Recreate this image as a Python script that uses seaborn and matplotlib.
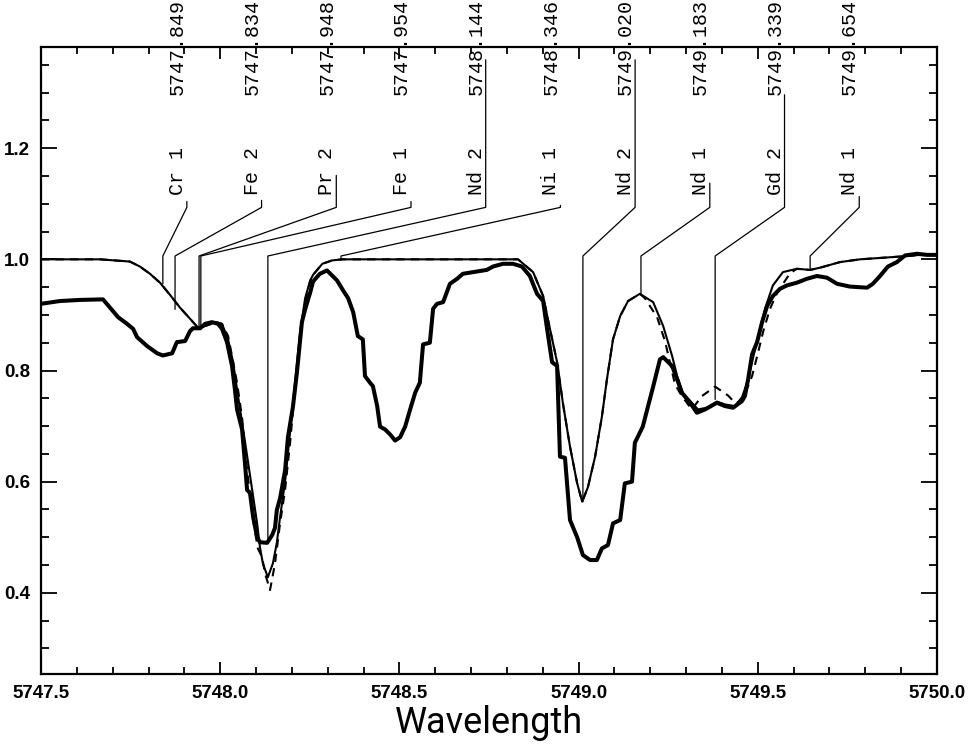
"""Observed vs. synthetic spectrum around 5748-5749 A with line identifications."""

import numpy as np
import pandas as pd
import seaborn as sns
import matplotlib.pyplot as plt
from matplotlib.ticker import MultipleLocator, FormatStrFormatter

# observed spectrum (thick line)
obs_wave = [5747.500, 5747.553, 5747.609, 5747.673, 5747.715, 5747.740, 5747.757, 5747.768,
            5747.796, 5747.824, 5747.840, 5747.866, 5747.879, 5747.902, 5747.916, 5747.924,
            5747.944, 5747.958, 5747.977, 5747.994, 5748.005, 5748.019, 5748.033, 5748.041,
            5748.047, 5748.061, 5748.069, 5748.075, 5748.083, 5748.092, 5748.103, 5748.111,
            5748.131, 5748.145, 5748.153, 5748.158, 5748.167, 5748.181, 5748.189, 5748.203,
            5748.214, 5748.228, 5748.237, 5748.251, 5748.259, 5748.278, 5748.298, 5748.326,
            5748.343, 5748.357, 5748.371, 5748.384, 5748.398, 5748.404, 5748.418, 5748.426,
            5748.438, 5748.446, 5748.460, 5748.474, 5748.488, 5748.502, 5748.516, 5748.530,
            5748.544, 5748.557, 5748.566, 5748.585, 5748.594, 5748.605, 5748.622, 5748.641,
            5748.661, 5748.677, 5748.705, 5748.744, 5748.761, 5748.789, 5748.817, 5748.842,
            5748.864, 5748.884, 5748.901, 5748.912, 5748.926, 5748.940, 5748.948, 5748.962,
            5748.976, 5748.996, 5749.012, 5749.032, 5749.051, 5749.065, 5749.082, 5749.096,
            5749.116, 5749.129, 5749.149, 5749.157, 5749.179, 5749.208, 5749.227, 5749.236,
            5749.247, 5749.261, 5749.275, 5749.288, 5749.311, 5749.330, 5749.353, 5749.386,
            5749.408, 5749.431, 5749.456, 5749.464, 5749.473, 5749.484, 5749.498, 5749.512,
            5749.526, 5749.542, 5749.562, 5749.581, 5749.609, 5749.637, 5749.665, 5749.693,
            5749.721, 5749.757, 5749.805, 5749.821, 5749.841, 5749.863, 5749.888, 5749.911,
            5749.944, 5749.972, 5750.000]
obs_flux = [0.920, 0.925, 0.927, 0.928, 0.896, 0.884, 0.875, 0.860,
            0.844, 0.831, 0.827, 0.831, 0.851, 0.853, 0.871, 0.876,
            0.876, 0.884, 0.887, 0.884, 0.875, 0.851, 0.808, 0.766,
            0.730, 0.694, 0.634, 0.585, 0.580, 0.536, 0.500, 0.491,
            0.490, 0.504, 0.517, 0.549, 0.570, 0.620, 0.680, 0.735,
            0.796, 0.887, 0.910, 0.940, 0.960, 0.974, 0.980, 0.962,
            0.944, 0.930, 0.905, 0.862, 0.856, 0.790, 0.778, 0.772,
            0.736, 0.699, 0.694, 0.685, 0.674, 0.680, 0.699, 0.730,
            0.760, 0.778, 0.847, 0.850, 0.911, 0.920, 0.923, 0.956,
            0.965, 0.974, 0.977, 0.981, 0.987, 0.992, 0.992, 0.987,
            0.970, 0.938, 0.925, 0.875, 0.815, 0.808, 0.645, 0.643,
            0.531, 0.500, 0.468, 0.459, 0.459, 0.480, 0.486, 0.525,
            0.531, 0.597, 0.600, 0.670, 0.699, 0.771, 0.820, 0.824,
            0.817, 0.808, 0.784, 0.760, 0.742, 0.724, 0.730, 0.742,
            0.736, 0.733, 0.745, 0.754, 0.784, 0.829, 0.851, 0.887,
            0.916, 0.934, 0.947, 0.953, 0.958, 0.965, 0.970, 0.967,
            0.956, 0.951, 0.949, 0.956, 0.970, 0.987, 0.995, 1.007,
            1.010, 1.008, 1.008]

# synthetic spectrum, first model (thin line)
syn1_wave = [5747.500, 5747.665, 5747.748, 5747.776, 5747.804, 5747.832, 5747.860, 5747.888,
             5747.916, 5747.938, 5747.958, 5747.988, 5748.005, 5748.022, 5748.036, 5748.050,
             5748.064, 5748.078, 5748.092, 5748.103, 5748.111, 5748.119, 5748.133, 5748.147,
             5748.158, 5748.167, 5748.181, 5748.195, 5748.209, 5748.223, 5748.237, 5748.251,
             5748.259, 5748.285, 5748.312, 5748.340, 5748.831, 5748.873, 5748.901, 5748.920,
             5748.940, 5748.956, 5748.976, 5748.996, 5749.010, 5749.026, 5749.046, 5749.065,
             5749.079, 5749.096, 5749.116, 5749.138, 5749.171, 5749.208, 5749.236, 5749.261,
             5749.275, 5749.291, 5749.316, 5749.333, 5749.358, 5749.386, 5749.408, 5749.436,
             5749.456, 5749.470, 5749.484, 5749.501, 5749.520, 5749.542, 5749.570, 5749.609,
             5749.646, 5749.674, 5749.729, 5749.785, 5749.897, 5749.953, 5750.000]
syn1_flux = [1.000, 1.000, 0.996, 0.987, 0.974, 0.958, 0.936, 0.913,
             0.893, 0.877, 0.880, 0.887, 0.884, 0.856, 0.815, 0.753,
             0.694, 0.634, 0.573, 0.525, 0.482, 0.453, 0.428, 0.453,
             0.490, 0.536, 0.600, 0.690, 0.780, 0.870, 0.930, 0.962,
             0.972, 0.992, 0.998, 1.000, 1.000, 0.977, 0.934, 0.875,
             0.815, 0.742, 0.663, 0.597, 0.564, 0.590, 0.645, 0.717,
             0.784, 0.856, 0.898, 0.925, 0.938, 0.923, 0.880, 0.826,
             0.790, 0.760, 0.742, 0.730, 0.733, 0.744, 0.739, 0.736,
             0.752, 0.778, 0.815, 0.862, 0.911, 0.953, 0.977, 0.983,
             0.981, 0.985, 0.995, 1.000, 1.005, 1.008, 1.008]

# synthetic spectrum, second model (dashed line)
syn2_wave = [5747.500, 5747.665, 5747.748, 5747.776, 5747.804, 5747.832, 5747.860, 5747.888,
             5747.916, 5747.938, 5747.958, 5747.988, 5748.005, 5748.022, 5748.033, 5748.047,
             5748.061, 5748.075, 5748.092, 5748.105, 5748.117, 5748.125, 5748.139, 5748.153,
             5748.167, 5748.181, 5748.195, 5748.209, 5748.223, 5748.237, 5748.251, 5748.259,
             5748.285, 5748.312, 5748.340, 5748.831, 5748.873, 5748.901, 5748.920, 5748.940,
             5748.956, 5748.976, 5748.996, 5749.010, 5749.026, 5749.046, 5749.065, 5749.079,
             5749.096, 5749.116, 5749.138, 5749.171, 5749.185, 5749.219, 5749.241, 5749.269,
             5749.288, 5749.316, 5749.344, 5749.381, 5749.417, 5749.436, 5749.456, 5749.484,
             5749.501, 5749.515, 5749.534, 5749.554, 5749.590, 5749.609, 5749.646, 5749.674,
             5749.729, 5749.785, 5749.897, 5749.953, 5750.000]
syn2_flux = [1.000, 1.000, 0.996, 0.987, 0.974, 0.958, 0.936, 0.913,
             0.893, 0.877, 0.880, 0.887, 0.884, 0.862, 0.826, 0.778,
             0.715, 0.620, 0.530, 0.480, 0.464, 0.435, 0.405, 0.453,
             0.525, 0.585, 0.670, 0.770, 0.860, 0.925, 0.960, 0.972,
             0.992, 0.998, 1.000, 1.000, 0.977, 0.934, 0.875, 0.815,
             0.742, 0.663, 0.597, 0.564, 0.590, 0.645, 0.717, 0.784,
             0.856, 0.898, 0.925, 0.938, 0.930, 0.896, 0.853, 0.775,
             0.754, 0.730, 0.754, 0.771, 0.755, 0.742, 0.745, 0.790,
             0.833, 0.870, 0.911, 0.940, 0.975, 0.983, 0.981, 0.985,
             0.995, 1.000, 1.005, 1.008, 1.008]

# line identifications
line_ids = ['Cr 1', 'Fe 2', 'Pr 2', 'Fe 1', 'Nd 2', 'Ni 1', 'Nd 2', 'Nd 1', 'Gd 2', 'Nd 1']
line_labels = ['5747.849', '5747.834', '5747.948', '5747.954', '5748.144',
               '5748.346', '5749.020', '5749.183', '5749.339', '5749.654']
line_pos = [5747.840, 5747.874, 5747.941, 5747.946, 5748.133,
            5748.337, 5749.012, 5749.174, 5749.381, 5749.646]
line_depth = [0.956, 0.910, 0.875, 0.875, 0.490, 0.998, 0.564, 0.938, 0.748, 0.981]
leader_top = [1.104, 1.106, 1.151, 1.104, 1.359, 1.097, 1.359, 1.137, 1.296, 1.113]

XLIM = (5747.5, 5750.0)
YLIM = (0.254, 1.382)

sns.set_theme(style='ticks')
plt.rcParams['font.family'] = ['Liberation Sans', 'DejaVu Sans']
plt.rcParams['text.color'] = 'black'
plt.rcParams['axes.labelcolor'] = 'black'

obs = pd.DataFrame({'wavelength': obs_wave, 'flux': obs_flux})
syn1 = pd.DataFrame({'wavelength': syn1_wave, 'flux': syn1_flux})
syn2 = pd.DataFrame({'wavelength': syn2_wave, 'flux': syn2_flux})

fig = plt.figure(figsize=(9.71, 7.48), dpi=100)
ax = fig.add_axes([41 / 971, 74 / 748, 896 / 971, 627 / 748])

# dashed first so the solid model covers it wherever the two agree
sns.lineplot(data=syn2, x='wavelength', y='flux', ax=ax, color='black', lw=1.5,
             linestyle=(0, (4, 3)), estimator=None, sort=False)
sns.lineplot(data=syn1, x='wavelength', y='flux', ax=ax, color='black', lw=1.5,
             estimator=None, sort=False)
sns.lineplot(data=obs, x='wavelength', y='flux', ax=ax, color='black', lw=2.9,
             estimator=None, sort=False)

# labels sit at evenly spaced slots along the top, leaders run down to the lines
slots = np.linspace(5747.907, 5749.783, len(line_ids))
knee_hi, knee_lo = 1.0935, 1.006
mono = ['Liberation Mono', 'DejaVu Sans Mono']
for sx, lid, lab, lx, ly, top in zip(slots, line_ids, line_labels, line_pos,
                                     line_depth, leader_top):
    ax.plot([sx, sx, lx, lx], [top, knee_hi, knee_lo, ly], color='black', lw=0.9,
            clip_on=False)
    ax.text(sx, YLIM[1], lab, rotation=90, ha='right', va='center',
            family=mono, fontsize=14.4, clip_on=False)
    ax.text(sx, 1.159, lid, rotation=90, ha='right', va='center',
            family=mono, fontsize=14.4)

ax.set_xlim(*XLIM)
ax.set_ylim(*YLIM)
ax.xaxis.set_major_locator(MultipleLocator(0.5))
ax.xaxis.set_minor_locator(MultipleLocator(0.1))
ax.yaxis.set_major_locator(MultipleLocator(0.2))
ax.yaxis.set_minor_locator(MultipleLocator(0.05))
ax.xaxis.set_major_formatter(FormatStrFormatter('%.1f'))
ax.yaxis.set_major_formatter(FormatStrFormatter('%.1f'))
ax.tick_params(which='both', direction='in', top=True, right=True, width=1.3,
               colors='black', labelsize=13.5, pad=8)
ax.tick_params(axis='x', which='major', length=8.6)
ax.tick_params(axis='x', which='minor', length=5)
ax.tick_params(axis='y', which='major', length=11.5)
ax.tick_params(axis='y', which='minor', length=5.8)
for lbl in ax.get_xticklabels() + ax.get_yticklabels():
    lbl.set_fontweight('bold')
for sp in ax.spines.values():
    sp.set_linewidth(1.6)
    sp.set_color('black')

ax.set_ylabel('')
ax.set_xlabel('Wavelength', family=['Roboto', 'DejaVu Sans'], fontweight='normal',
              fontsize=26, labelpad=2, color='black')

fig.savefig('out.png', dpi=100)
